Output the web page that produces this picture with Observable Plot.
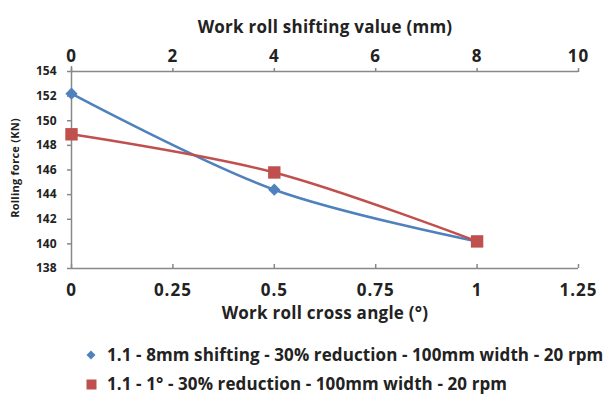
<!DOCTYPE html>
<html>
<head>
<meta charset="utf-8">
<script src="https://cdn.jsdelivr.net/npm/d3@7"></script>
<script src="https://cdn.jsdelivr.net/npm/@observablehq/plot@0.6"></script>
<style>
  html, body { margin: 0; padding: 0; background: #fff; }
  body { width: 605px; height: 401px; overflow: hidden; font-family: "Open Sans", Lato, sans-serif; font-weight: bold; color: #222; }
  #legend { position: relative; height: 66px; }
  .row { position: absolute; left: 84px; display: flex; align-items: center; font-size: 17px; white-space: nowrap; letter-spacing: 0.1px; }
  .sym { width: 14px; height: 14px; display: inline-flex; align-items: center; justify-content: center; margin-right: 9px; }
  #chart svg text { letter-spacing: 0.25px; }
  #chart svg g[aria-label="x-axis tick label"] text { letter-spacing: 1px; }
  #chart svg g[aria-label="y-axis tick label"] text { letter-spacing: 0px; }
</style>
</head>
<body>
<div id="chart"></div>
<div id="legend"></div>
<script>
// ---- data ----
const crossAngle = [0, 0.5, 1];            // Work roll cross angle (°)
const forceCross = [148.9, 145.8, 140.2];  // Rolling force (KN)
const shiftMm = [0, 4, 8];                 // Work roll shifting value (mm)
const forceShift = [152.2, 144.4, 140.2];  // Rolling force (KN)
const angleTicks = [0, 0.25, 0.5, 0.75, 1, 1.25];
const shiftTicks = [0, 2, 4, 6, 8, 10];
const forceTicks = [138, 140, 142, 144, 146, 148, 150, 152, 154];
const seriesNames = [
  "1.1 - 8mm shifting - 30% reduction - 100mm width - 20 rpm",
  "1.1 - 1° - 30% reduction - 100mm width - 20 rpm"
];
const seriesColors = ["#4F81BD", "#C0504D"];
const titleTop = "Work roll shifting value (mm)";
const titleBottom = "Work roll cross angle (°)";
const titleLeft = "Rolling force (KN)";

// secondary (top) axis: shifting mm mapped onto the primary angle scale
const angleMax = angleTicks[angleTicks.length - 1];
const shiftMax = shiftTicks[shiftTicks.length - 1];
const mmToAngle = mm => mm * angleMax / shiftMax;

const shiftData = shiftMm.map((v, i) => ({x: mmToAngle(v), y: forceShift[i]}));
const crossData = crossAngle.map((v, i) => ({x: v, y: forceCross[i]}));

const axisColor = "#888";
const font = "'Open Sans', Lato, sans-serif";

const chart = Plot.plot({
  width: 605,
  height: 335,
  marginLeft: 71,
  marginRight: 27,
  marginTop: 71,
  marginBottom: 67,
  style: {fontFamily: font, fontWeight: "bold", color: "#222", background: "#fff"},
  x: {domain: [angleTicks[0], angleMax]},
  y: {domain: [forceTicks[0], forceTicks[forceTicks.length - 1]]},
  marks: [
    // axis lines
    Plot.ruleX([angleTicks[0]], {stroke: axisColor, strokeWidth: 1.5, insetTop: -5}),
    Plot.ruleY([forceTicks[0]], {stroke: axisColor, strokeWidth: 1.5}),
    Plot.ruleY([forceTicks[forceTicks.length - 1]], {stroke: axisColor, strokeWidth: 1.5}),
    // left axis
    Plot.axisY({ticks: forceTicks, tickSize: 4, tickPadding: 11, stroke: axisColor, fill: "#222",
      fontSize: 12, label: null, strokeWidth: 1.5}),
    Plot.text([titleLeft], {frameAnchor: "left", dx: -56, dy: -2, rotate: -90, textAnchor: "middle",
      fontSize: 11, fill: "#222"}),
    // bottom axis
    Plot.axisX({anchor: "bottom", ticks: angleTicks, tickSize: 0, tickPadding: 15, fontSize: 17,
      fill: "#222", label: null, tickFormat: d => String(d)}),
    Plot.axisX({anchor: "bottom", ticks: angleTicks, tickSize: -4, stroke: axisColor, strokeWidth: 1.5,
      tickFormat: () => "", label: null}),
    Plot.text([titleBottom], {frameAnchor: "bottom", dy: 50, fontSize: 17, fill: "#222"}),
    // top axis (shifting value)
    Plot.axisX({anchor: "top", ticks: shiftTicks.map(mmToAngle), tickSize: 4, tickPadding: 6, fontSize: 17,
      stroke: axisColor, strokeWidth: 1.5, fill: "#222", label: null,
      tickFormat: a => String(Math.round(a * shiftMax / angleMax))}),
    Plot.text([titleTop], {frameAnchor: "top", dy: -51, fontSize: 17, fill: "#222"}),
    // series 1 (shifting, top axis)
    Plot.line(shiftData, {x: "x", y: "y", stroke: seriesColors[0], strokeWidth: 2.5, curve: "catmull-rom"}),
    Plot.dot(shiftData, {x: "x", y: "y", symbol: "diamond2", fill: seriesColors[0], r: 5.5, stroke: null}),
    // series 2 (cross angle, bottom axis)
    Plot.line(crossData, {x: "x", y: "y", stroke: seriesColors[1], strokeWidth: 2.5, curve: "catmull-rom"}),
    Plot.dot(crossData, {x: "x", y: "y", symbol: "square", fill: seriesColors[1], r: 7, stroke: null})
  ]
});
document.getElementById("chart").appendChild(chart);

// legend
const legend = document.getElementById("legend");
const symSvg = [
  `<svg width="14" height="14"><path d="M7,2.5L11.5,7L7,11.5L2.5,7Z" fill="${seriesColors[0]}"/></svg>`,
  `<svg width="14" height="14"><rect x="2.5" y="2.5" width="10" height="10" fill="${seriesColors[1]}"/></svg>`
];
const rowTops = [8, 37];
seriesNames.forEach((name, i) => {
  const row = document.createElement("div");
  row.className = "row";
  row.style.top = rowTops[i] + "px";
  row.innerHTML = `<span class="sym">${symSvg[i]}</span><span>${name}</span>`;
  legend.appendChild(row);
});
</script>
</body>
</html>
